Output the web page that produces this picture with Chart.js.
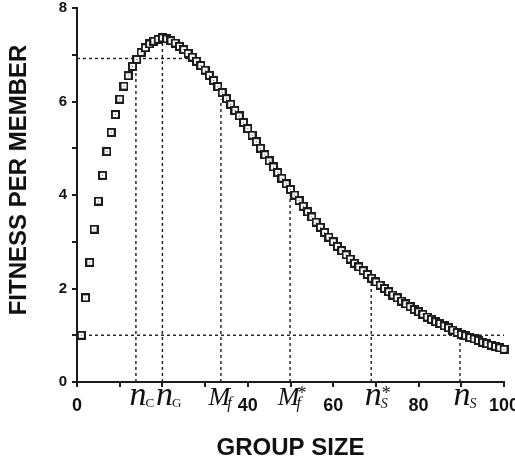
<!DOCTYPE html>
<html>
<head>
<meta charset="utf-8">
<script src="https://cdn.jsdelivr.net/npm/chart.js@4/dist/chart.umd.min.js"></script>
<style>
  html, body { margin: 0; padding: 0; background: #fff; }
  #chart { display: block; }
</style>
</head>
<body>
<canvas id="chart" width="515" height="465"></canvas>
<script>
// group size (x) and fitness per member (y)
var groupSize = [
    1, 2, 3, 4, 5, 6, 7, 8, 9, 10,
    11, 12, 13, 14, 15, 16, 17, 18, 19, 20,
    21, 22, 23, 24, 25, 26, 27, 28, 29, 30,
    31, 32, 33, 34, 35, 36, 37, 38, 39, 40,
    41, 42, 43, 44, 45, 46, 47, 48, 49, 50,
    51, 52, 53, 54, 55, 56, 57, 58, 59, 60,
    61, 62, 63, 64, 65, 66, 67, 68, 69, 70,
    71, 72, 73, 74, 75, 76, 77, 78, 79, 80,
    81, 82, 83, 84, 85, 86, 87, 88, 89, 90,
    91, 92, 93, 94, 95, 96, 97, 98, 99, 100
];
var fitness = [
    1.00, 1.80, 2.56, 3.27, 3.87, 4.42, 4.93, 5.34, 5.72, 6.05,
    6.33, 6.55, 6.75, 6.90, 7.05, 7.15, 7.23, 7.29, 7.33, 7.36,
    7.34, 7.30, 7.25, 7.18, 7.11, 7.03, 6.95, 6.86, 6.77, 6.67,
    6.56, 6.45, 6.32, 6.19, 6.06, 5.94, 5.81, 5.69, 5.55, 5.42,
    5.28, 5.14, 5.00, 4.86, 4.73, 4.60, 4.48, 4.36, 4.24, 4.12,
    4.00, 3.88, 3.76, 3.64, 3.53, 3.42, 3.31, 3.20, 3.10, 3.00,
    2.90, 2.81, 2.72, 2.63, 2.54, 2.46, 2.38, 2.30, 2.22, 2.14,
    2.07, 2.00, 1.93, 1.86, 1.80, 1.73, 1.67, 1.61, 1.55, 1.50,
    1.45, 1.39, 1.34, 1.29, 1.25, 1.20, 1.16, 1.11, 1.06, 1.02,
    0.99, 0.95, 0.92, 0.89, 0.85, 0.82, 0.79, 0.76, 0.73, 0.70
];

// dotted guide lines
var vGuideX   = [13.8, 20, 33.7, 49.9, 68.9, 89.7];
var vGuideTop = [6.92, 7.3, 6.05, 4.0, 2.15, 1.0];
var hGuideY   = [6.92, 1.0];
var hGuideEnd = [26.5, 100];

// symbolic labels under the x axis
var symbolX    = [13.8, 20, 33.7, 49.9, 68.9, 89.7];
var symbolMain = ['n', 'n', 'M', 'M', 'n', 'n'];
var symbolSub  = ['C', 'G', 'f', 'f', 'S', 'S'];
var symbolSup  = ['', '', '', '*', '*', ''];

// tick labels
var xLabelValues = [0, 40, 60, 80, 100];
var yLabelValues = [0, 2, 4, 6, 8];

var ink = '#1c1c1c';

// open square marker with a small dot in the middle
function makeMarker() {
    var c = document.createElement('canvas');
    c.width = 9; c.height = 9;
    var g = c.getContext('2d');
    g.fillStyle = ink;
    g.fillRect(0, 0, 9, 9);
    g.fillStyle = '#fff';
    g.fillRect(2, 2, 5, 5);
    g.fillStyle = '#555';
    g.fillRect(4, 4, 1, 1);
    return c;
}

var points = [];
for (var i = 0; i < groupSize.length; i++) {
    points.push({x: groupSize[i], y: fitness[i]});
}

var datasets = [{
    data: points,
    showLine: false,
    pointStyle: makeMarker(),
    pointRadius: 5,
    clip: false
}];

for (var j = 0; j < vGuideX.length; j++) {
    datasets.push({
        type: 'line',
        data: [{x: vGuideX[j], y: 0}, {x: vGuideX[j], y: vGuideTop[j]}],
        borderColor: ink, borderWidth: 1.4, borderDash: [3, 3],
        pointRadius: 0, fill: false
    });
}
for (var k = 0; k < hGuideY.length; k++) {
    datasets.push({
        type: 'line',
        data: [{x: 0, y: hGuideY[k]}, {x: hGuideEnd[k], y: hGuideY[k]}],
        borderColor: ink, borderWidth: 1.4, borderDash: [3, 3],
        pointRadius: 0, fill: false
    });
}

// draws the y title and the italic symbols (n_C, n_G, M_f ...) under the axis
var symbolPlugin = {
    id: 'symbols',
    afterDraw: function(chart) {
        var ctx = chart.ctx;
        var xs = chart.scales.x;
        var base = xs.top + 23;
        ctx.save();
        ctx.fillStyle = '#111';

        // y axis title, sits a bit above the middle in the original
        ctx.save();
        ctx.translate(19, 180);
        ctx.rotate(-Math.PI / 2);
        ctx.font = 'bold 24px "Liberation Sans"';
        ctx.textAlign = 'center';
        ctx.textBaseline = 'middle';
        ctx.fillText('FITNESS PER MEMBER', 0, 0);
        ctx.restore();

        ctx.textBaseline = 'alphabetic';
        for (var i = 0; i < symbolX.length; i++) {
            var px = xs.getPixelForValue(symbolX[i]);
            var isN = symbolMain[i] === 'n';
            ctx.font = isN ? 'italic 34px "Liberation Serif"' : 'italic 26px "Liberation Serif"';
            ctx.textAlign = 'center';
            var cx = px + (isN ? 2 : -1.5);
            ctx.fillText(symbolMain[i], cx, base);
            var w = ctx.measureText(symbolMain[i]).width;
            var sx = cx + w / 2 + (isN ? -1 : -3);
            ctx.textAlign = 'left';
            if (symbolSub[i] === 'f') {
                ctx.font = 'italic 16px "Liberation Serif"';
                ctx.fillText('f', sx, base + 3);
            } else if (symbolSub[i] === 'S') {
                ctx.font = 'italic 14px "Liberation Serif"';
                ctx.fillText('S', sx, base + 3);
            } else {
                ctx.font = '13px "Liberation Serif"';
                ctx.fillText(symbolSub[i], sx, base + 2);
            }
            if (symbolSup[i]) {
                ctx.font = '18px "Liberation Serif"';
                ctx.fillText(symbolSup[i], sx + 1, base - 6);
            }
        }
        ctx.restore();
    }
};

var ctx = document.getElementById('chart').getContext('2d');
ctx.chart = new Chart(ctx, {
    type: 'scatter',
    data: { datasets: datasets },
    options: {
        responsive: false,
        animation: false,
        layout: { padding: { top: 8, right: 11, left: 0, bottom: 0 } },
        plugins: {
            legend: { display: false },
            tooltip: { enabled: false }
        },
        scales: {
            x: {
                type: 'linear',
                min: 0, max: 100,
                border: { display: true, color: ink, width: 2 },
                grid: { drawOnChartArea: false, drawTicks: true, tickLength: 5, color: ink, lineWidth: 2 },
                ticks: {
                    stepSize: 10, autoSkip: false, maxRotation: 0, padding: 8,
                    color: '#111',
                    font: { family: '"Liberation Sans"', size: 18, weight: 'bold' },
                    callback: function(v) { return xLabelValues.indexOf(v) >= 0 ? String(v) : ''; }
                },
                title: {
                    display: true, text: 'GROUP SIZE', color: '#111',
                    font: { family: '"Liberation Sans"', size: 24, weight: 'bold' },
                    padding: { top: 0, bottom: 2 }
                },
                afterFit: function(s) { s.height = 83; s.paddingLeft = 0; s.paddingRight = 0; }
            },
            y: {
                type: 'linear',
                min: 0, max: 8,
                border: { display: true, color: ink, width: 2 },
                grid: { drawOnChartArea: false, drawTicks: true, tickLength: 5, color: ink, lineWidth: 2 },
                ticks: {
                    stepSize: 1, autoSkip: false, padding: 5,
                    color: '#111',
                    font: { family: '"Liberation Sans"', size: 15, weight: 'bold' },
                    callback: function(v) { return yLabelValues.indexOf(v) >= 0 ? String(v) : ''; }
                },
                afterFit: function(s) { s.width = 77; s.paddingTop = 0; s.paddingBottom = 0; }
            }
        }
    },
    plugins: [symbolPlugin]
});
</script>
</body>
</html>
